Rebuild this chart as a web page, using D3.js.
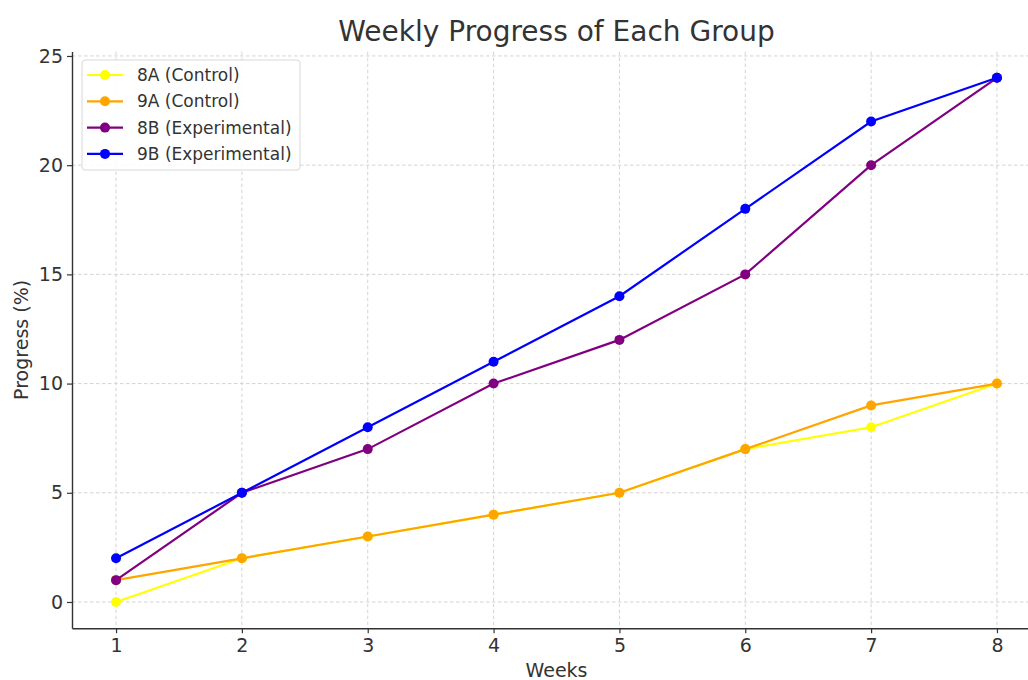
<!DOCTYPE html>
<html><head><meta charset="utf-8">
<script src="https://cdn.jsdelivr.net/npm/d3@7"></script>
<style>body{margin:0;background:#fff;} text{font-family:"DejaVu Sans",sans-serif;}</style>
</head><body>
<svg id="c" width="1028" height="680"></svg>
<script>
const weeks = [1,2,3,4,5,6,7,8];
const s8A = [0,2,3,4,5,7,8,10];
const s9A = [1,2,3,4,5,7,9,10];
const s8B = [1,5,7,10,12,15,20,24];
const s9B = [2,5,8,11,14,18,22,24];
const seriesNames = ["8A (Control)","9A (Control)","8B (Experimental)","9B (Experimental)"];
const seriesColors = ["yellow","orange","purple","blue"];
const yTicks = [0,5,10,15,20,25];
const series = [s8A,s9A,s8B,s9B].map((v,i)=>({name:seriesNames[i],color:seriesColors[i],values:v}));

const svg = d3.select("#c");
const L=72, R=1041, T=51.6, B=628.2;
const x = d3.scaleLinear().domain([0.65,8.35]).range([L,R]);
const y = d3.scaleLinear().domain([-1.2,25.2]).range([B,T]);
const txt="#333";

// grid
const g = svg.append("g");
g.selectAll(".gx").data(weeks).enter().append("line")
 .attr("x1",d=>x(d)).attr("x2",d=>x(d)).attr("y1",T).attr("y2",B)
 .attr("stroke","#cfcfcf").attr("stroke-width",0.9).attr("stroke-dasharray","3.5,2.5");
g.selectAll(".gy").data(yTicks).enter().append("line")
 .attr("y1",d=>y(d)).attr("y2",d=>y(d)).attr("x1",L).attr("x2",R)
 .attr("stroke","#cfcfcf").attr("stroke-width",0.9).attr("stroke-dasharray","3.5,2.5");

// axes
const xa = svg.append("g").attr("transform",`translate(0,${B})`)
 .call(d3.axisBottom(x).tickValues(weeks).tickFormat(d3.format("d")).tickSize(5).tickPadding(5).tickSizeOuter(0));
const ya = svg.append("g").attr("transform",`translate(${L},0)`)
 .call(d3.axisLeft(y).tickValues(yTicks).tickFormat(d3.format("d")).tickSize(5).tickPadding(4).tickSizeOuter(0));
[xa,ya].forEach(a=>{
  a.select(".domain").attr("stroke",txt).attr("stroke-width",1.4);
  a.selectAll(".tick line").attr("stroke",txt).attr("stroke-width",1.2);
  a.selectAll(".tick text").attr("fill",txt).style("font-size","19px").style("font-family","DejaVu Sans");
});

// lines
const line = d3.line().x((d,i)=>x(weeks[i])).y(d=>y(d));
series.forEach(s=>{
  const sg = svg.append("g");
  sg.append("path").attr("d",line(s.values)).attr("fill","none").attr("stroke",s.color).attr("stroke-width",2.2);
  sg.selectAll("circle").data(s.values).enter().append("circle")
    .attr("cx",(d,i)=>x(weeks[i])).attr("cy",d=>y(d)).attr("r",5).attr("fill",s.color);
});

// title & labels
svg.append("text").attr("x",(L+R)/2).attr("y",41).attr("text-anchor","middle")
 .attr("fill",txt).style("font-size","28px").text("Weekly Progress of Each Group");
svg.append("text").attr("x",(L+R)/2).attr("y",677).attr("text-anchor","middle")
 .attr("fill",txt).style("font-size","19px").text("Weeks");
svg.append("text").attr("transform",`translate(28,${(T+B)/2}) rotate(-90)`).attr("text-anchor","middle")
 .attr("fill",txt).style("font-size","19px").text("Progress (%)");

// legend
const lg = svg.append("g").attr("transform","translate(82,60)");
lg.append("rect").attr("x",0).attr("y",0).attr("width",218).attr("height",110).attr("rx",3)
 .attr("fill","white").attr("fill-opacity",0.85).attr("stroke","#d8d8d8");
series.forEach((s,i)=>{
  const yy = 15 + i*26.3;
  lg.append("line").attr("x1",5).attr("x2",41).attr("y1",yy).attr("y2",yy).attr("stroke",s.color).attr("stroke-width",2.2);
  lg.append("circle").attr("cx",23).attr("cy",yy).attr("r",5).attr("fill",s.color);
  lg.append("text").attr("x",55).attr("y",yy+6).attr("fill",txt).style("font-size","17px").text(s.name);
});
</script>
</body></html>
